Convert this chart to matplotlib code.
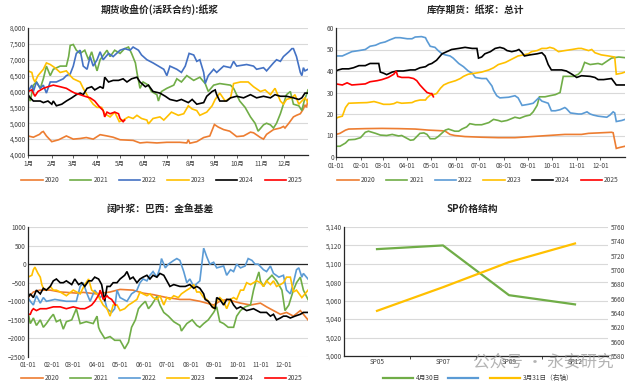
import matplotlib
matplotlib.use("Agg")
import matplotlib.pyplot as plt
from matplotlib.lines import Line2D
from matplotlib.ticker import FuncFormatter

plt.rcParams['font.family'] = ['Noto Sans CJK SC', 'DejaVu Sans']

# ---------------- data ----------------
years = ['2020', '2021', '2022', '2023', '2024', '2025']
month_days = [0, 31, 59, 90, 120, 151, 181, 212, 243, 273, 304, 334]
month_labels_cn = ['1月', '2月', '3月', '4月', '5月', '6月', '7月', '8月', '9月', '10月', '11月', '12月']
month_labels_md = ['01-01', '02-01', '03-01', '04-01', '05-01', '06-01', '07-01', '08-01',
                   '09-01', '10-01', '11-01', '12-01']

# Panel 1: futures close (day of year, price)
fut_2020 = [(0,4600),(7,4560),(15,4650),(18,4720),(20,4740),(24,4600),(31,4420),(40,4480),(50,4600),(59,4500),
            (68,4520),(76,4550),(85,4500),(94,4640),(103,4600),(111,4560),(120,4480),(137,4460),(146,4380),
            (155,4400),(168,4380),(181,4400),(198,4400),(207,4380),(209,4480),(211,4370),(220,4420),(229,4550),
            (237,4600),(243,4960),(248,4880),(255,4800),(263,4750),(272,4580),(281,4600),(290,4720),(294,4700),
            (303,4550),(307,4500),(311,4650),(320,4800),(329,4850),(333,4900),(335,4850),(340,5000),(346,5200),
            (350,5250),(355,5300),(359,5450),(361,5580),(363,5500),(365,5750)]
fut_2021 = [(0,5850),(3,5700),(7,6200),(11,6300),(16,6100),(20,6400),(24,6800),(29,6500),(33,6700),(42,6800),
            (50,6800),(53,7100),(55,7450),(59,7480),(63,7300),(68,7200),(74,7300),(79,7000),(83,7250),(87,6900),
            (90,6650),(94,7000),(103,7300),(107,7100),(113,7300),(120,7200),(126,7350),(131,7400),(135,7200),
            (140,6900),(142,6600),(146,6100),(150,6300),(157,6200),(161,6000),(168,5900),(170,5700),(174,6000),
            (181,6100),(190,6200),(194,6400),(200,6300),(207,6500),(216,6350),(224,6450),(231,6250),(235,6000),
            (242,6200),(250,6250),(264,6200),(268,6100),(276,5700),(283,5500),(290,5200),(296,5000),(300,4750),
            (307,4950),(311,5000),(316,4950),(320,4850),(324,5000),(329,5300),(333,5600),(337,5900),(342,6000),
            (346,5600),(353,5550),(357,5400),(360,5700),(363,5900),(365,6050)]
fut_2022 = [(0,6000),(5,6200),(7,6000),(11,6300),(16,6100),(20,6200),(24,5950),(29,6300),(37,6300),(46,6400),
            (50,6500),(55,6550),(59,6800),(63,7200),(68,7300),(72,6800),(77,6700),(81,7100),(85,6800),(90,7000),
            (94,7250),(98,7000),(105,7200),(111,7100),(120,7300),(126,7350),(133,7300),(137,7400),(144,7300),
            (148,7150),(155,7000),(163,6900),(170,6800),(177,6700),(181,6500),(185,6800),(194,6700),(200,6600),
            (205,6800),(210,7200),(216,7150),(220,6950),(224,7000),(229,6600),(231,6250),(235,6500),(242,6700),
            (246,6600),(255,6800),(264,6750),(268,6950),(272,6800),(285,6850),(294,6800),(298,6700),(307,6750),
            (311,6650),(320,6900),(324,7000),(329,6950),(333,7100),(340,7250),(344,7350),(346,7350),(350,7100),
            (355,6600),(357,6500),(359,6750),(361,6650),(365,6700)]
fut_2023 = [(0,6650),(5,6600),(7,6400),(9,6300),(13,6500),(20,6700),(24,6900),(29,6850),(35,6750),(42,6600),
            (50,6650),(55,6500),(59,6400),(68,6300),(72,6100),(79,5800),(85,5600),(90,5500),(96,5500),(100,5300),
            (107,5200),(113,5350),(116,5200),(119,5050),(124,5100),(131,5200),(137,5150),(142,5250),(148,5150),
            (155,5100),(157,4980),(163,5150),(172,5200),(177,5100),(183,5250),(187,5350),(196,5250),(203,5300),
            (209,5550),(214,5450),(220,5400),(224,5250),(233,5350),(240,5550),(244,5750),(250,5950),(257,5700),
            (264,5800),(268,6250),(277,6300),(287,6300),(294,6150),(303,6000),(309,6050),(316,5900),(322,6100),
            (329,5700),(333,5600),(337,5750),(344,5800),(348,5900),(353,5600),(357,5700),(361,5800),(365,5650)]
fut_2024 = [(0,5900),(3,5800),(7,5700),(16,5700),(20,5650),(26,5700),(31,5600),(33,5700),(37,5550),(44,5600),
            (50,5700),(57,5800),(63,5900),(68,5950),(72,5900),(77,6100),(83,6150),(87,6050),(94,6150),(98,6100),
            (100,6450),(105,6300),(111,6350),(118,6350),(124,6400),(129,6300),(135,6400),(142,6450),(146,6300),
            (153,6150),(157,6200),(163,6000),(172,5950),(179,5850),(185,5750),(194,5700),(200,5750),(209,5650),
            (214,5750),(220,5600),(229,5650),(233,5850),(240,6000),(244,6050),(246,5900),(250,5700),(259,5700),
            (264,5800),(272,5850),(281,5800),(290,5900),(298,5800),(307,5850),(316,5800),(322,5900),(329,5850),
            (337,5850),(346,5800),(353,5750),(357,5800),(361,5950),(365,5950)]
fut_2025 = [(0,6000),(5,6050),(9,5850),(13,6000),(20,6100),(26,6150),(33,6200),(42,6150),(50,6100),(57,6000),
            (61,5950),(68,5900),(74,5850),(81,5800),(87,5700),(92,5550),(98,5400),(100,5200),(103,5350),(107,5300),
            (113,5350),(118,5300),(120,5150),(124,5050),(126,5100)]

# Panel 2: futures warehouse stock (day of year, 10k t)
stk_2020 = [(0,10.5),(5,11),(12,12.5),(16,13),(37,13.2),(58,13.3),(79,13.2),(100,13),(117,12.5),(134,12.2),
            (138,12),(144,10.5),(150,10),(163,9.5),(184,9.2),(205,9),(226,9),(247,9.5),(268,10),(289,10.5),
            (310,10.5),(319,11),(331,11.2),(348,11.5),(350,11.3),(354,4),(359,4.5),(365,5)]
stk_2021 = [(0,5),(5,5),(12,6.5),(16,8),(24,8.2),(31,9),(37,11.5),(41,12),(50,11),(56,10.2),(64,10),(71,10.5),
            (79,9.8),(83,10),(88,9),(94,7.8),(98,8),(102,9.5),(106,11),(111,11.2),(115,10.5),(119,8.5),(125,8.5),
            (129,9.5),(138,12.5),(142,13),(150,12),(155,12),(159,13),(165,14),(169,15.5),(176,15),(184,15),
            (193,16),(199,17.5),(205,17),(209,16.5),(216,17),(226,18.5),(232,18),(239,19),(245,19.5),(249,21),
            (254,24),(257,28),(264,28),(270,28.5),(277,29),(283,30),(287,37.5),(300,37.5),(306,38.5),(310,40),
            (314,44),(321,43),(331,43.5),(336,43),(340,44),(348,46),(357,46.5),(365,46.2)]
stk_2022 = [(0,47),(8,47),(14,48),(20,49),(29,49.5),(37,50),(43,51.5),(50,52),(56,53),(62,53.5),(68,54.5),
            (75,55.5),(81,55.5),(90,55),(96,55),(100,55.8),(108,56),(113,55.5),(115,54),(119,51.5),(125,51),
            (129,49.5),(134,48),(138,47.5),(144,47),(148,46),(155,43.5),(161,42),(167,40),(172,39),(176,37),
            (184,36.5),(190,36.5),(195,34),(197,33),(199,31),(203,28.5),(207,27.5),(218,27.8),(226,28.5),
            (230,27.5),(235,24),(243,24.5),(249,25),(256,27.5),(260,26),(264,25.5),(268,25),(272,21.5),
            (277,21.5),(283,22),(289,23),(291,22.5),(296,20.5),(306,20),(310,20),(317,21),(321,20),(325,19.5),
            (331,19),(342,18.5),(346,19.5),(350,21),(352,20.5),(354,16.5),(361,17),(365,17.5)]
stk_2023 = [(0,18),(3,18.5),(8,19),(12,23),(16,25),(29,25.2),(39,25.3),(43,25.5),(48,25.8),(54,25.2),
            (60,24.5),(68,24.5),(73,24.8),(77,25.5),(83,25),(96,25.3),(100,26),(106,26.5),(113,26.5),(115,27.5),
            (119,28.8),(123,29),(127,29.5),(132,32),(136,33.5),(142,34.5),(151,35.5),(157,36.5),(161,37.5),
            (167,38.5),(176,39),(184,39.5),(193,40.5),(199,41.5),(205,43),(214,44),(222,45.5),(230,47),
            (237,47.5),(243,48),(247,49),(254,49.5),(260,50.5),(266,50.5),(270,51),(275,50.5),(281,49),
            (289,49.5),(298,50),(306,50.5),(310,50.5),(319,49.5),(323,50),(327,48.5),(335,47.5),(344,47),
            (352,46.5),(354,38.5),(361,39),(365,39.5)]
stk_2024 = [(0,40),(3,40.5),(8,41),(16,41),(22,41.5),(29,42.5),(37,42.5),(43,43.5),(50,43.5),(54,43.5),
            (56,39.5),(60,39),(64,38.3),(71,39.5),(77,40),(85,40),(94,40.5),(100,40.5),(106,41.5),(113,42),
            (117,43),(121,43.5),(127,45),(134,48),(140,49),(146,50),(155,50.5),(163,51),(172,50.5),(178,50.5),
            (180,46),(184,46.5),(188,48),(195,49),(201,50.5),(207,51),(212,50.5),(216,49.5),(222,49),(228,49.5),
            (231,50),(235,48.5),(238,47),(245,47.5),(254,48),(260,48.5),(264,47),(268,43),(272,40.5),(285,40.5),
            (291,40),(298,38.5),(304,37),(310,37.8),(321,37.5),(327,37),(331,36),(338,36),(348,36.5),(354,33.5),
            (365,33.5)]
stk_2025 = [(0,34),(8,33.5),(14,34.5),(20,33.5),(37,34),(43,35),(52,35.5),(58,36),(66,37),(73,38.5),(76,40),
            (78,37.5),(83,37),(92,37),(98,36.5),(102,35.5),(106,33.5),(111,31.5),(115,30),(119,29.5),(121,29.5),
            (123,28)]

# Panel 3: hardwood pulp basis (day of year, yuan/t)
bas_2020 = [(0,-900),(7,-750),(15,-700),(29,-700),(42,-750),(50,-760),(63,-780),(72,-760),(89,-800),(100,-770),
            (107,-750),(120,-680),(137,-700),(150,-780),(163,-820),(181,-900),(198,-950),(211,-950),(224,-1000),
            (233,-1050),(242,-1100),(250,-1000),(259,-950),(268,-1000),(277,-1050),(290,-1100),(303,-1050),
            (311,-1150),(320,-1250),(329,-1350),(337,-1300),(346,-1400),(355,-1250),(359,-1350),(365,-1500)]
bas_2021 = [(0,-1300),(3,-1600),(7,-1450),(11,-1650),(16,-1500),(20,-1700),(24,-1600),(29,-1450),(33,-1350),
            (37,-1550),(42,-1500),(46,-1750),(50,-1550),(57,-1500),(63,-1200),(68,-1600),(76,-1550),(85,-1600),
            (90,-1400),(92,-1700),(94,-1800),(100,-2000),(107,-1950),(113,-2050),(120,-2050),(124,-2200),
            (126,-2280),(131,-2100),(135,-1700),(140,-1500),(144,-1200),(148,-1100),(153,-1000),(157,-1200),
            (161,-1100),(168,-870),(172,-1100),(177,-1300),(183,-1400),(190,-1550),(198,-1650),(200,-1800),
            (207,-1600),(214,-1500),(220,-1650),(224,-1700),(229,-1600),(235,-1500),(242,-1300),(246,-1150),
            (250,-1550),(255,-1600),(261,-1700),(268,-1700),(272,-1400),(277,-1250),(283,-1150),(290,-1100),
            (294,-700),(298,-400),(301,-210),(303,-450),(307,-600),(311,-450),(318,-300),(324,-450),(331,-700),
            (335,-1250),(340,-1100),(346,-700),(350,-500),(355,-350),(359,-700),(365,-950)]
bas_2022 = [(0,-900),(3,-1000),(7,-1100),(11,-850),(16,-1050),(20,-900),(24,-1000),(35,-950),(50,-1000),
            (63,-1000),(68,-600),(72,-500),(77,-800),(81,-1000),(87,-700),(94,-900),(98,-800),(103,-1200),
            (109,-1300),(113,-1200),(116,-700),(120,-900),(129,-1000),(135,-800),(142,-700),(146,-500),(150,-400),
            (155,-450),(159,-300),(163,-200),(168,-350),(172,-100),(174,150),(179,-100),(183,0),(190,100),
            (194,150),(198,100),(203,-200),(207,-500),(211,-400),(216,-600),(224,-450),(229,430),(233,200),
            (237,0),(242,50),(246,-100),(255,-50),(259,-300),(264,-150),(268,-200),(272,0),(277,-100),(283,-50),
            (287,150),(292,100),(296,0),(300,0),(307,-150),(311,-200),(316,-50),(320,-250),(327,-350),(333,-300),
            (337,-700),(342,-800),(346,-500),(350,-150),(353,-100),(357,-350),(359,-250),(365,-400)]
bas_2023 = [(0,-350),(5,-300),(7,-150),(9,-80),(13,-250),(16,-350),(18,-550),(20,-650),(24,-700),(29,-600),
            (33,-700),(37,-700),(42,-750),(50,-850),(59,-700),(68,-800),(74,-550),(79,-400),(83,-700),(90,-800),
            (98,-1100),(103,-1200),(107,-1400),(111,-1100),(116,-1100),(120,-1250),(126,-1200),(131,-1100),
            (135,-1050),(142,-950),(146,-750),(150,-800),(155,-850),(159,-800),(163,-900),(168,-950),(172,-850),
            (177,-1100),(181,-900),(185,-950),(190,-850),(196,-900),(200,-800),(207,-700),(211,-650),(216,-550),
            (220,-750),(224,-750),(229,-900),(233,-950),(237,-1050),(242,-1200),(246,-1000),(250,-900),
            (255,-1000),(259,-1200),(264,-950),(268,-900),(272,-950),(277,-700),(281,-700),(285,-500),(290,-550),
            (294,-500),(298,-450),(303,-500),(307,-600),(311,-450),(316,-550),(320,-450),(324,-600),(329,-550),
            (333,-500),(337,-350),(342,-350),(346,-750),(350,-700),(357,-900),(361,-800),(365,-700)]
bas_2024 = [(0,-900),(3,-800),(7,-900),(11,-700),(16,-800),(20,-650),(24,-700),(29,-600),(33,-450),(37,-400),
            (42,-500),(46,-500),(50,-450),(57,-550),(61,-400),(66,-550),(70,-500),(74,-600),(79,-450),(83,-450),
            (87,-350),(92,-400),(96,-550),(100,-1000),(103,-600),(107,-600),(111,-500),(116,-500),(120,-400),
            (126,-300),(129,-200),(133,-400),(137,-350),(142,-500),(146,-400),(150,-350),(155,-300),(159,-400),
            (163,-300),(168,-350),(172,-250),(177,-300),(181,-450),(185,-600),(190,-550),(198,-600),(205,-600),
            (211,-550),(216,-650),(220,-600),(224,-650),(229,-800),(231,-950),(235,-1000),(240,-1150),
            (244,-1200),(246,-900),(250,-950),(255,-1100),(259,-950),(264,-950),(268,-1100),(272,-1200),
            (277,-1150),(285,-1250),(294,-1200),(303,-1300),(311,-1300),(316,-1400),(320,-1350),(324,-1500),
            (329,-1450),(333,-1400),(337,-1400),(342,-1450),(348,-1400),(355,-1350),(359,-1300),(365,-1300)]
bas_2025 = [(0,-1350),(3,-1350),(5,-1250),(7,-1200),(11,-1250),(16,-1200),(24,-1200),(33,-1150),(42,-1150),
            (50,-1200),(59,-1150),(68,-1200),(74,-1200),(79,-1150),(83,-1100),(87,-1000),(90,-900),(93,-800),
            (94,-700),(96,-800),(98,-950),(103,-850),(105,-900),(109,-950),(114,-1100)]

# Panel 4: SP term structure
sp_contracts = ['SP05', 'SP07', 'SP09', 'SP12']
sp_apr30 = [5116, 5120, 5066, 5056]
sp_mar31 = [5643, 5676, 5711, 5737]

# ---------------- styling ----------------
colors_a = ['#ED7D31', '#70AD47', '#4472C4', '#FFC000', '#000000', '#FF0000']
colors_b = ['#ED7D31', '#70AD47', '#5B9BD5', '#FFC000', '#000000', '#FF0000']
LW = 1.2
TICK_FS = 4.6
TITLE_FS = 7
LEG_FS = 4.8
TXT = '#404040'
GRID = '#D9D9D9'

W, H = 635, 388
fig = plt.figure(figsize=(W / 100, H / 100), dpi=100)


def add_ax(l, t, r, b):
    return fig.add_axes([l / W, 1 - b / H, (r - l) / W, (b - t) / H])


def style(ax):
    ax.set_facecolor('white')
    ax.grid(axis='y', color=GRID, lw=0.8)
    ax.set_axisbelow(True)
    for s in ['top', 'right']:
        ax.spines[s].set_visible(False)
    for s in ['left', 'bottom']:
        ax.spines[s].set_color('#262626')
        ax.spines[s].set_linewidth(0.9)
    ax.tick_params(labelsize=TICK_FS, colors=TXT, length=2, width=0.6, pad=1.5)
    ax.tick_params(axis='y', length=0)


def draw_series(ax, series, colors):
    handles = []
    for name, s, c in zip(years, series, colors):
        xs = [p[0] for p in s]
        ys = [p[1] for p in s]
        h, = ax.plot(xs, ys, color=c, lw=LW, label=name, solid_joinstyle='miter')
        handles.append(h)
    return handles


def year_legend(handles, cx, cy):
    fig.legend(handles=handles, labels=years, loc='center', bbox_to_anchor=(cx / W, 1 - cy / H),
               ncol=6, frameon=False, fontsize=LEG_FS, handlelength=3.2, columnspacing=1.6,
               handletextpad=0.3, labelcolor=TXT)


# Panel 1
ax1 = add_ax(28, 28, 308, 155)
style(ax1)
h1 = draw_series(ax1, [fut_2020, fut_2021, fut_2022, fut_2023, fut_2024, fut_2025], colors_a)
ax1.set_xlim(0, 365)
ax1.set_ylim(4000, 8000)
ax1.set_yticks(range(4000, 8001, 500))
ax1.yaxis.set_major_formatter(FuncFormatter(lambda v, p: f'{int(v):,}'))
ax1.set_xticks(month_days)
ax1.set_xticklabels(month_labels_cn)
fig.text(160 / W, 1 - 10 / H, '期货收盘价(活跃合约):纸浆', ha='center', va='center',
         fontsize=TITLE_FS, fontweight='bold', color='#262626')
year_legend(h1, 162, 180)

# Panel 2
ax2 = add_ax(336, 28, 625, 157)
style(ax2)
h2 = draw_series(ax2, [stk_2020, stk_2021, stk_2022, stk_2023, stk_2024, stk_2025], colors_b)
ax2.set_xlim(0, 365)
ax2.set_ylim(0, 60)
ax2.set_yticks(range(0, 61, 10))
ax2.set_xticks(month_days)
ax2.set_xticklabels(month_labels_md)
fig.text(476 / W, 1 - 10 / H, '库存期货：纸浆：总计', ha='center', va='center',
         fontsize=TITLE_FS, fontweight='bold', color='#262626')
year_legend(h2, 478, 180)

# Panel 3
ax3 = add_ax(28, 227, 308, 357)
style(ax3)
ax3.spines['bottom'].set_visible(False)
h3 = draw_series(ax3, [bas_2020, bas_2021, bas_2022, bas_2023, bas_2024, bas_2025], colors_b)
ax3.axhline(0, color='#262626', lw=0.9, zorder=1.5)
ax3.set_xlim(0, 365)
ax3.set_ylim(-2500, 1000)
ax3.set_yticks(range(-2500, 1001, 500))
ax3.set_xticks(month_days)
ax3.set_xticklabels(month_labels_md)
ax3.tick_params(axis='x', length=0, pad=3)
fig.text(160 / W, 1 - 209 / H, '阔叶浆：巴西：金鱼基差', ha='center', va='center',
         fontsize=TITLE_FS, fontweight='bold', color='#262626')
year_legend(h3, 162, 378)

# Panel 4
ax4 = add_ax(344, 227, 608, 356)
style(ax4)
xpos = list(range(len(sp_contracts)))
l_apr, = ax4.plot(xpos, sp_apr30, color='#70AD47', lw=1.6)
ax4.set_xlim(-0.5, len(sp_contracts) - 0.5)
ax4.set_ylim(5000, 5140)
ax4.set_yticks(range(5000, 5141, 20))
ax4.yaxis.set_major_formatter(FuncFormatter(lambda v, p: f'{int(v):,}'))
ax4.set_xticks(xpos)
ax4.set_xticklabels(sp_contracts)
ax4.set_xticks([0.5, 1.5, 2.5], minor=True)
ax4.tick_params(axis='x', which='major', length=0)
ax4.tick_params(axis='x', which='minor', length=2, width=0.6, color='#262626')
ax4b = ax4.twinx()
l_mar, = ax4b.plot(xpos, sp_mar31, color='#FFC000', lw=1.6)
ax4b.set_ylim(5580, 5760)
ax4b.set_yticks(range(5580, 5761, 20))
for s in ax4b.spines.values():
    s.set_visible(False)
ax4b.tick_params(labelsize=TICK_FS, colors=TXT, length=0, pad=2)
fig.text(472 / W, 1 - 209 / H, 'SP价格结构', ha='center', va='center',
         fontsize=TITLE_FS, fontweight='bold', color='#262626')
blue_handle = Line2D([], [], color='#5B9BD5', lw=1.6)
fig.legend(handles=[l_apr, blue_handle, l_mar], labels=['4月30日', ' ', '3月31日（右轴）'],
           loc='center', bbox_to_anchor=(478 / W, 1 - 378 / H), ncol=3, frameon=False,
           fontsize=LEG_FS, handlelength=4.5, columnspacing=1.2, handletextpad=0.4, labelcolor=TXT)

# watermark
fig.text(543 / W, 1 - 362 / H, '公众号 · 永安研究', ha='center', va='center',
         fontsize=12, color='#9a9a9a', alpha=0.75)

fig.savefig('out.png', dpi=100, facecolor='white')
